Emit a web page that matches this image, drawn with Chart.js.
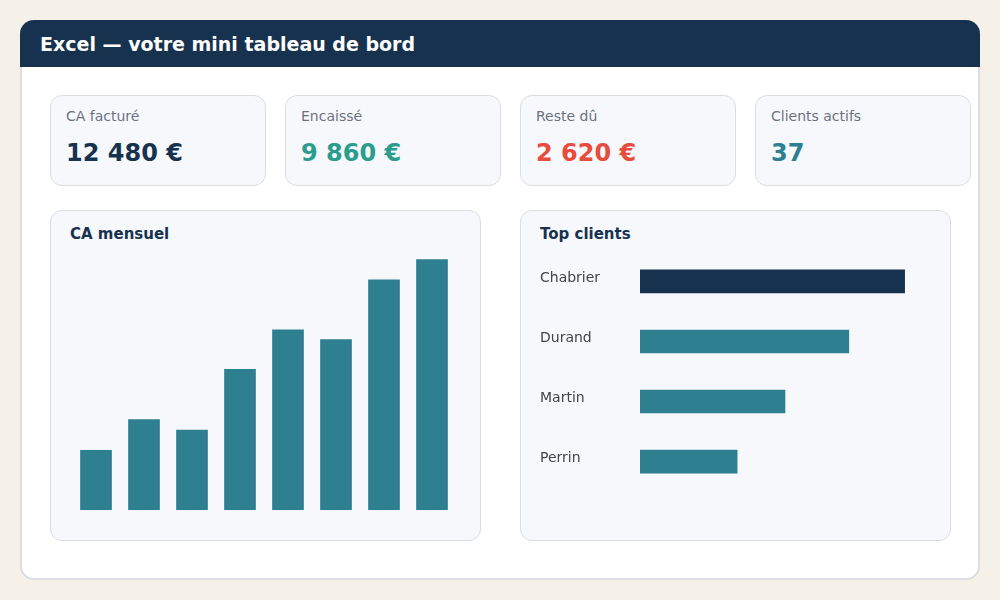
<!DOCTYPE html>
<html lang="fr">
<head>
<meta charset="utf-8">
<title>Excel — votre mini tableau de bord</title>
<script src="https://cdn.jsdelivr.net/npm/chart.js@4.4.1/dist/chart.umd.min.js"></script>
<style>
  html, body { margin: 0; padding: 0; }
  body {
    width: 1000px; height: 600px; position: relative; overflow: hidden;
    background: #f5f1e8; font-family: 'DejaVu Sans', sans-serif;
  }
  .abs { position: absolute; }
  .card {
    left: 20px; top: 20px; width: 960px; height: 560px; box-sizing: border-box;
    background: #fff; border: 2px solid #dcdde3; border-radius: 14px;
  }
  .header {
    left: 20px; top: 20px; width: 960px; height: 47px;
    background: #17324f; border-radius: 14px 14px 0 0;
  }
  .title {
    left: 40px; top: 34.5px; font-size: 19px; line-height: 19px; font-weight: bold;
    color: #fff; white-space: nowrap;
  }
  .kpi {
    top: 95px; width: 216px; height: 91px; box-sizing: border-box;
    background: #f7f8fc; border: 1px solid #dcdde3; border-radius: 12px;
  }
  .kpi-label {
    top: 109px; font-size: 14px; line-height: 14px; color: #6b7280; white-space: nowrap;
  }
  .kpi-value {
    top: 140.5px; font-size: 24px; line-height: 24px; font-weight: bold; white-space: nowrap;
  }
  .panel {
    top: 210px; width: 431px; height: 331px; box-sizing: border-box;
    background: #f7f8fc; border: 1px solid #dcdde3; border-radius: 12px;
  }
  .panel-title {
    top: 226.5px; font-size: 15px; line-height: 15px; font-weight: bold; color: #17324f;
    white-space: nowrap;
  }
  canvas { position: absolute; }
</style>
</head>
<body>
<div class="abs card"></div>
<div class="abs header"></div>
<div class="abs title">Excel — votre mini tableau de bord</div>

<div class="abs kpi" style="left:50px"></div>
<div class="abs kpi" style="left:285px"></div>
<div class="abs kpi" style="left:520px"></div>
<div class="abs kpi" style="left:755px"></div>
<div id="kpis"></div>

<div class="abs panel" style="left:50px"></div>
<div class="abs panel" style="left:520px"></div>
<div class="abs panel-title" style="left:70px">CA mensuel</div>
<div class="abs panel-title" style="left:540px">Top clients</div>

<canvas id="monthChart" width="384" height="260" style="left:72px;top:250px"></canvas>
<canvas id="clientChart" width="390" height="257" style="left:540px;top:243px"></canvas>

<script>
// KPI tiles
const kpiLabels = ['CA facturé', 'Encaissé', 'Reste dû', 'Clients actifs'];
const kpiValues = ['12 480 €', '9 860 €', '2 620 €', '37'];

// monthly revenue (€)
const months = ['Jan', 'Fév', 'Mar', 'Avr', 'Mai', 'Juin', 'Juil', 'Aoû'];
const monthlyCA = [620, 940, 830, 1460, 1870, 1770, 2390, 2600];

// top clients (€)
const clients = ['Chabrier', 'Durand', 'Martin', 'Perrin'];
const clientCA = [3650, 2880, 2000, 1340];

const NAVY = '#17324f';
const TEAL = '#2e7f8f';
const kpiColors = [NAVY, '#2a9d8f', '#e74c3c', '#2e7f91'];
const kpiLeft = [50, 285, 520, 755];

const kpiBox = document.getElementById('kpis');
kpiLabels.forEach((label, i) => {
    const l = document.createElement('div');
    l.className = 'abs kpi-label';
    l.style.left = (kpiLeft[i] + 16) + 'px';
    l.textContent = label;
    kpiBox.appendChild(l);

    const v = document.createElement('div');
    v.className = 'abs kpi-value';
    v.style.left = (kpiLeft[i] + 16) + 'px';
    v.style.color = kpiColors[i];
    v.textContent = kpiValues[i];
    kpiBox.appendChild(v);
});

Chart.defaults.font.family = "'DejaVu Sans', sans-serif";
Chart.defaults.animation = false;

new Chart(document.getElementById('monthChart').getContext('2d'), {
    type: 'bar',
    data: {
        labels: months,
        datasets: [{
            label: 'CA mensuel',
            data: monthlyCA,
            backgroundColor: TEAL,
            barThickness: 31
        }]
    },
    options: {
        responsive: false,
        devicePixelRatio: 1,
        layout: { padding: 0 },
        plugins: { legend: { display: false }, tooltip: { enabled: false } },
        scales: {
            x: { display: false },
            y: { display: false, min: 0, max: 2700 }
        }
    }
});

new Chart(document.getElementById('clientChart').getContext('2d'), {
    type: 'bar',
    data: {
        labels: clients,
        datasets: [{
            label: 'Top clients',
            data: clientCA,
            backgroundColor: ctx => ctx.dataIndex === 0 ? NAVY : TEAL,
            barThickness: 23
        }]
    },
    options: {
        indexAxis: 'y',
        responsive: false,
        devicePixelRatio: 1,
        layout: { padding: 0 },
        plugins: { legend: { display: false }, tooltip: { enabled: false } },
        scales: {
            x: { display: false, min: 0, max: 4000 },
            y: {
                grid: { display: false, drawTicks: false },
                border: { display: false },
                afterFit: axis => { axis.width = 100; },
                ticks: {
                    crossAlign: 'far',
                    padding: 0,
                    labelOffset: -3,
                    color: '#444',
                    font: { size: 14 }
                }
            }
        }
    }
});
</script>
</body>
</html>
